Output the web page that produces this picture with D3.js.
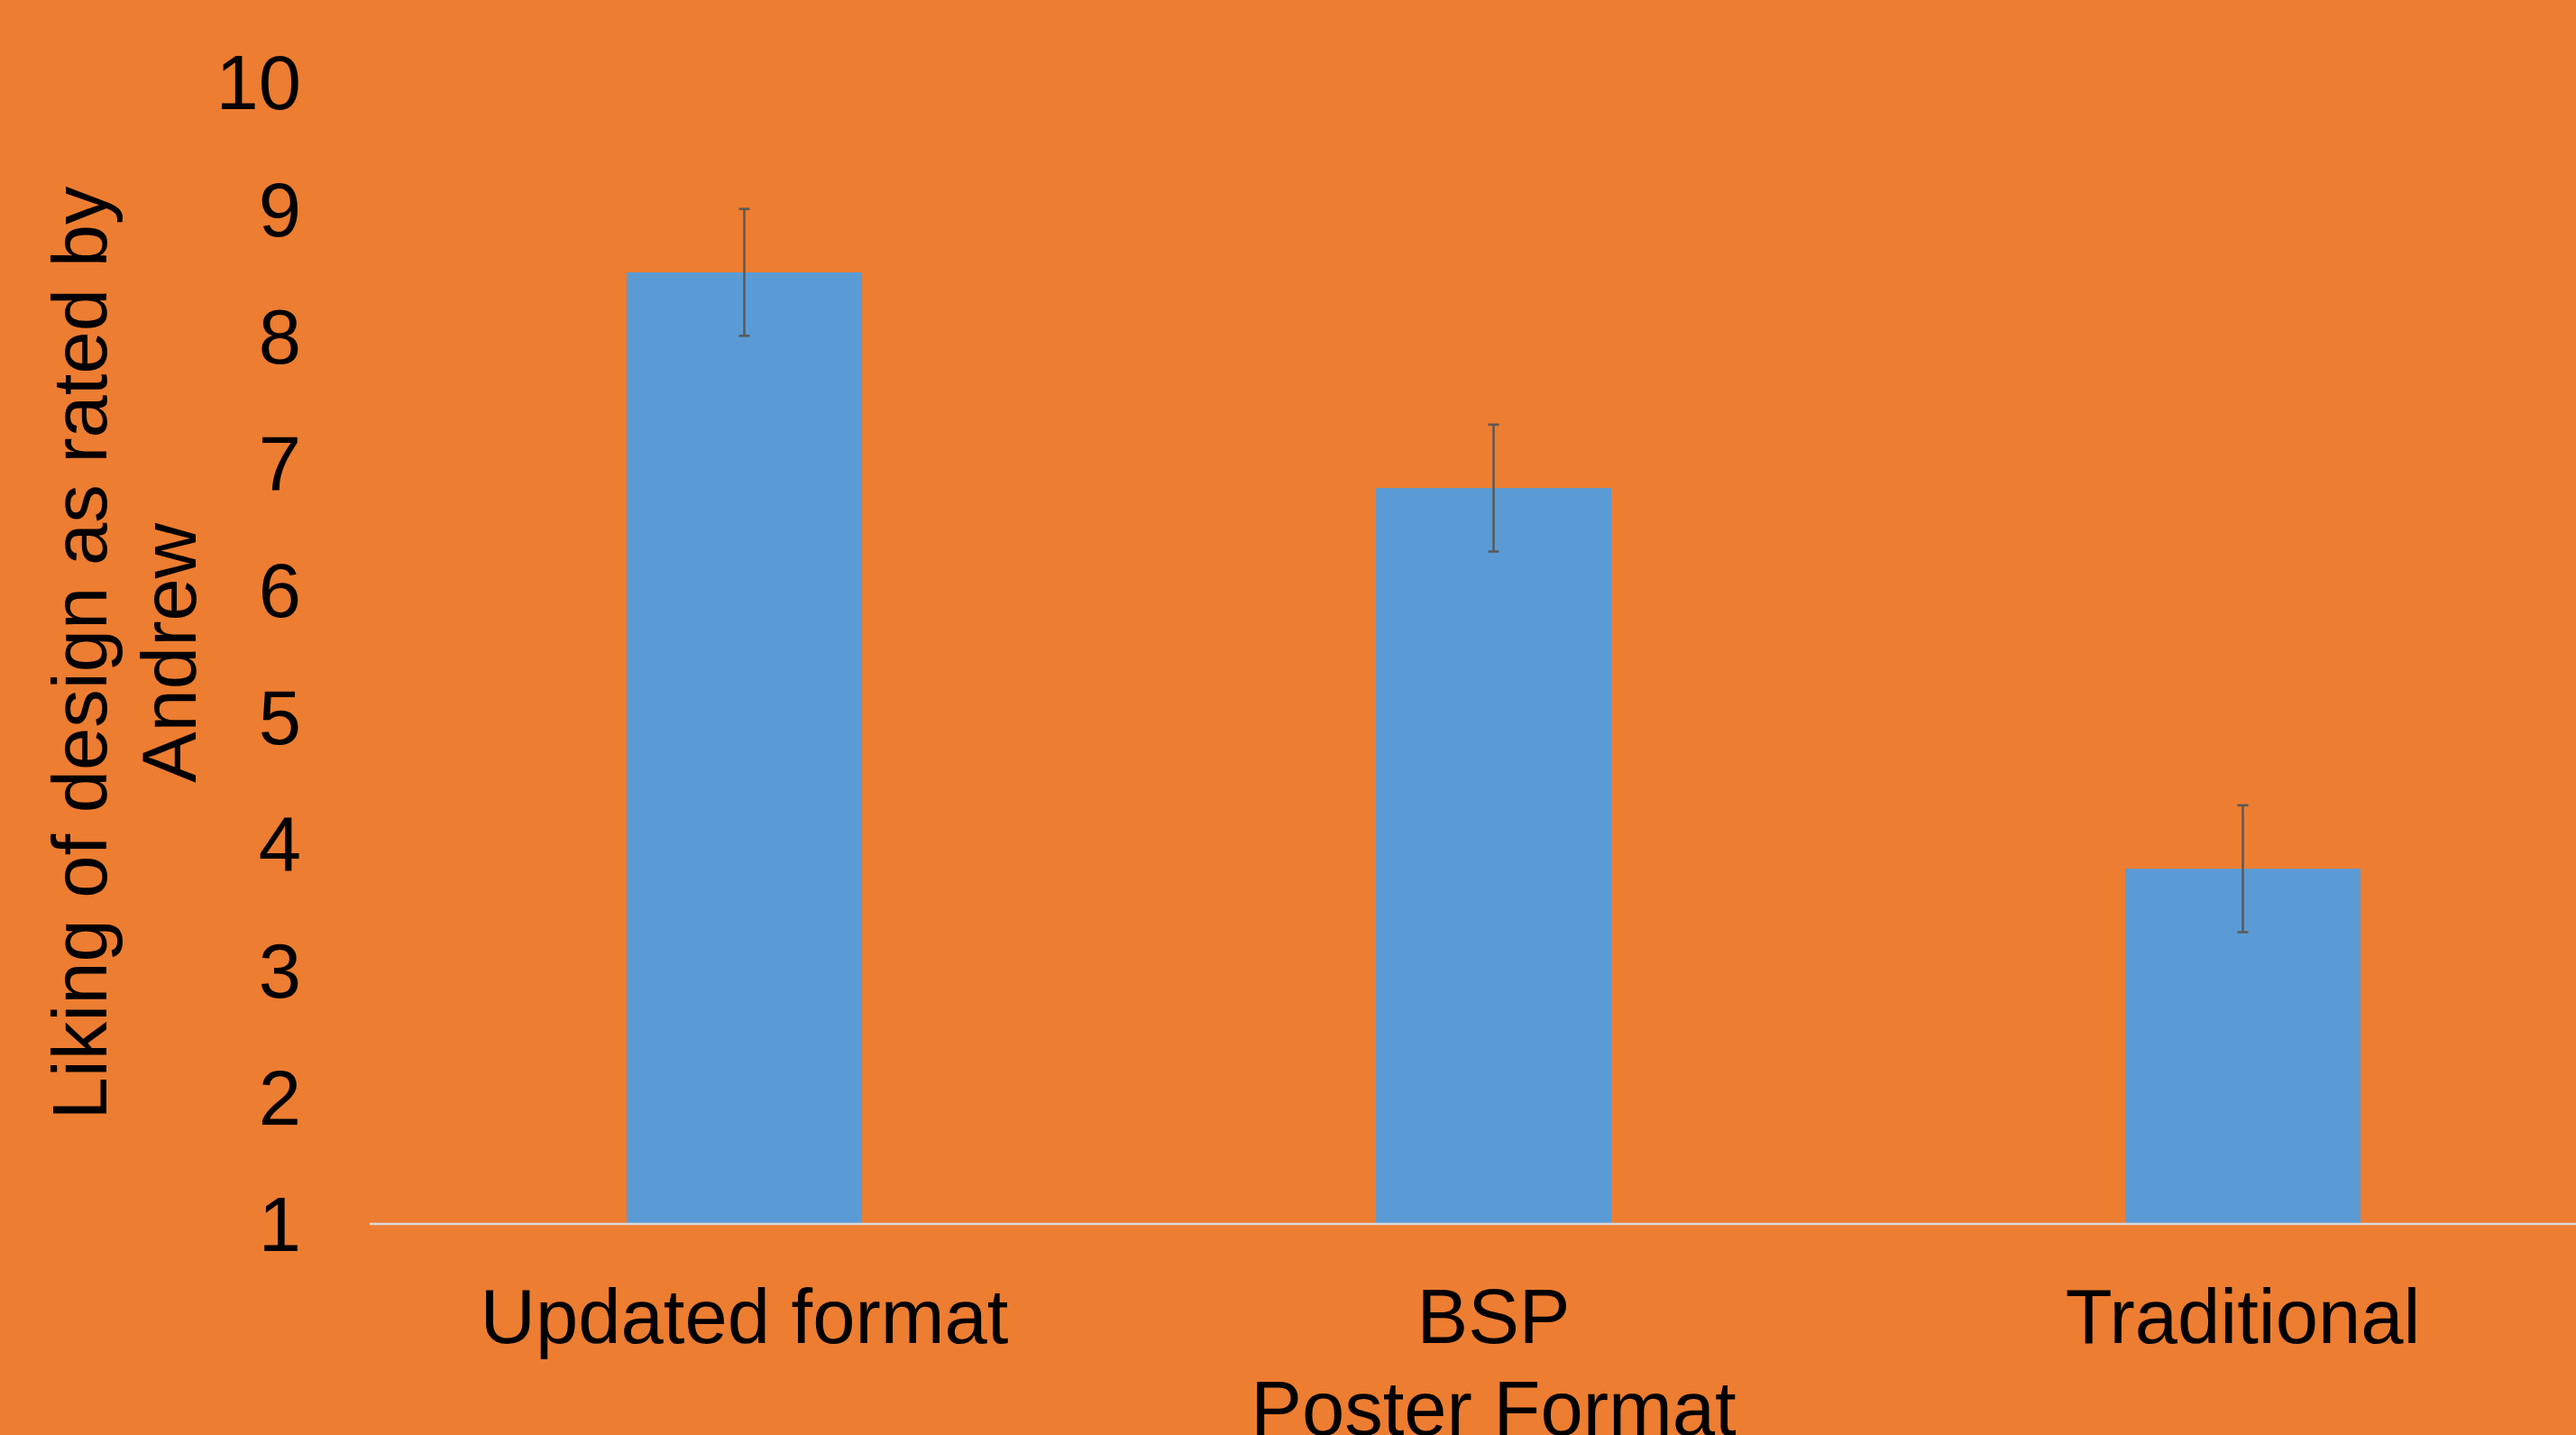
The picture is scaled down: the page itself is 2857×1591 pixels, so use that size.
<!DOCTYPE html>
<html>
<head>
<meta charset="utf-8">
<script src="https://cdn.jsdelivr.net/npm/d3@7"></script>
<style>
  html, body { margin: 0; padding: 0; background: #ED7D31; overflow: hidden; }
  svg { display: block; font-family: "Liberation Sans", Arial, sans-serif; }
</style>
</head>
<body>
<div id="chart"></div>
<script>
// data
var categories = ['Updated format', 'BSP', 'Traditional'];
var values = [8.5, 6.8, 3.8];
var errors = [0.5, 0.5, 0.5];
var yTicks = [1, 2, 3, 4, 5, 6, 7, 8, 9, 10];
var yTitle = ['Liking of design as rated by', 'Andrew'];
var xTitle = 'Poster Format';

var width = 2857, height = 1591;

var svg = d3.select('#chart').append('svg')
    .attr('width', width)
    .attr('height', height);

svg.append('rect')
    .attr('width', width)
    .attr('height', height)
    .style('fill', '#ED7D31');

// plot area runs past the right edge of the picture
var x = d3.scaleBand()
    .domain(categories)
    .range([410, 2903])
    .paddingInner(0.686)
    .paddingOuter(0.343);

var y = d3.scaleLinear()
    .domain([1, 10])
    .range([1357, 91]);

// bars
svg.selectAll('.bar')
    .data(values)
  .enter().append('rect')
    .attr('class', 'bar')
    .attr('x', function(d, i) { return x(categories[i]); })
    .attr('width', x.bandwidth())
    .attr('y', function(d) { return y(d); })
    .attr('height', function(d) { return y(1) - y(d); })
    .style('fill', '#5B9BD5');

// error bars
var eb = svg.selectAll('.err')
    .data(values)
  .enter().append('g')
    .attr('class', 'err')
    .attr('transform', function(d, i) {
      return 'translate(' + (x(categories[i]) + x.bandwidth() / 2) + ',0)';
    })
    .style('stroke', '#595959')
    .style('stroke-width', 2.5);

eb.append('line')
    .attr('y1', function(d, i) { return y(d + errors[i]); })
    .attr('y2', function(d, i) { return y(d - errors[i]); });
eb.append('line')
    .attr('x1', -6).attr('x2', 6)
    .attr('y1', function(d, i) { return y(d + errors[i]); })
    .attr('y2', function(d, i) { return y(d + errors[i]); });
eb.append('line')
    .attr('x1', -6).attr('x2', 6)
    .attr('y1', function(d, i) { return y(d - errors[i]); })
    .attr('y2', function(d, i) { return y(d - errors[i]); });

// category axis
var xAxis = svg.append('g')
    .attr('transform', 'translate(0,' + y(1) + ')')
    .call(d3.axisBottom(x).tickSize(0).tickPadding(0));
xAxis.select('.domain')
    .attr('d', 'M410,0H2903')
    .style('stroke', '#D9D9D9')
    .style('stroke-width', 2.5);
xAxis.selectAll('text')
    .attr('y', 132)
    .attr('dy', null)
    .style('font-size', '85px')
    .style('fill', '#000')
    .style('font-family', '"Liberation Sans", Arial, sans-serif');

// value axis (labels only)
var yAxis = svg.append('g')
    .attr('transform', 'translate(334,0)')
    .call(d3.axisLeft(y).tickValues(yTicks).tickSize(0).tickPadding(0));
yAxis.select('.domain').remove();
yAxis.selectAll('text')
    .attr('dy', '0.35em')
    .style('font-size', '85px')
    .style('fill', '#000')
    .style('font-family', '"Liberation Sans", Arial, sans-serif');

// axis titles
var yt = svg.append('text')
    .attr('transform', 'translate(118,' + (y(1) + y(10)) / 2 + ') rotate(-90)')
    .attr('text-anchor', 'middle')
    .style('font-size', '85px')
    .style('fill', '#000');
yt.selectAll('tspan')
    .data(yTitle)
  .enter().append('tspan')
    .attr('x', 0)
    .attr('y', function(d, i) { return i * 99; })
    .text(function(d) { return d; });

svg.append('text')
    .attr('x', (410 + 2903) / 2)
    .attr('y', 1591)
    .attr('text-anchor', 'middle')
    .style('font-size', '85px')
    .style('fill', '#000')
    .text(xTitle);
</script>
</body>
</html>
